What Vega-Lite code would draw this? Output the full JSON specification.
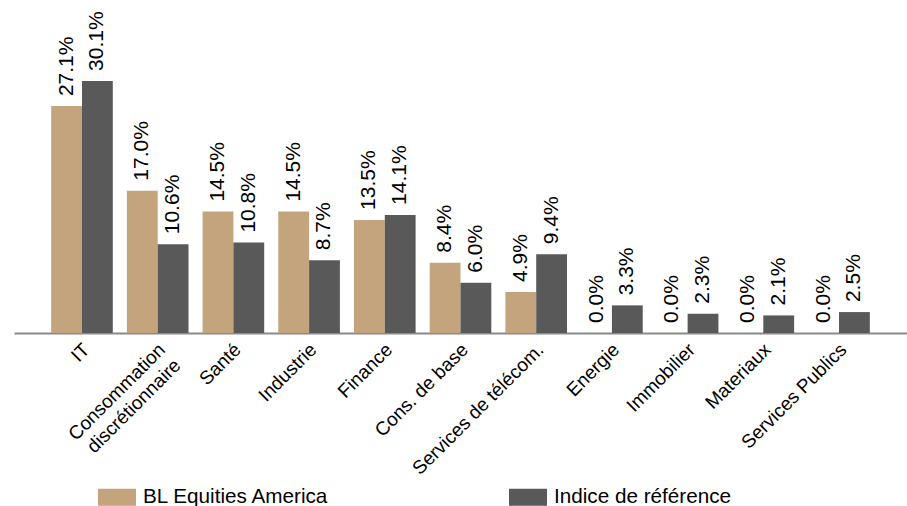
{
  "$schema": "https://vega.github.io/schema/vega-lite/v6.json",
  "autosize": "none",
  "width": 893,
  "height": 333,
  "padding": {"left": 14, "top": 0, "right": 0, "bottom": 173},
  "background": "white",
  "config": {
    "view": {"stroke": null},
    "font": "Liberation Sans",
    "text": {"font": "Liberation Sans"}
  },
  "data": {
    "values": [
      {"secteur": "IT", "serie": "BL Equities America", "valeur": 0.271},
      {"secteur": "IT", "serie": "Indice de référence", "valeur": 0.301},
      {"secteur": "Consommation discrétionnaire", "serie": "BL Equities America", "valeur": 0.170},
      {"secteur": "Consommation discrétionnaire", "serie": "Indice de référence", "valeur": 0.106},
      {"secteur": "Santé", "serie": "BL Equities America", "valeur": 0.145},
      {"secteur": "Santé", "serie": "Indice de référence", "valeur": 0.108},
      {"secteur": "Industrie", "serie": "BL Equities America", "valeur": 0.145},
      {"secteur": "Industrie", "serie": "Indice de référence", "valeur": 0.087},
      {"secteur": "Finance", "serie": "BL Equities America", "valeur": 0.135},
      {"secteur": "Finance", "serie": "Indice de référence", "valeur": 0.141},
      {"secteur": "Cons. de base", "serie": "BL Equities America", "valeur": 0.084},
      {"secteur": "Cons. de base", "serie": "Indice de référence", "valeur": 0.060},
      {"secteur": "Services de télécom.", "serie": "BL Equities America", "valeur": 0.049},
      {"secteur": "Services de télécom.", "serie": "Indice de référence", "valeur": 0.094},
      {"secteur": "Energie", "serie": "BL Equities America", "valeur": 0.0},
      {"secteur": "Energie", "serie": "Indice de référence", "valeur": 0.033},
      {"secteur": "Immobilier", "serie": "BL Equities America", "valeur": 0.0},
      {"secteur": "Immobilier", "serie": "Indice de référence", "valeur": 0.023},
      {"secteur": "Materiaux", "serie": "BL Equities America", "valeur": 0.0},
      {"secteur": "Materiaux", "serie": "Indice de référence", "valeur": 0.021},
      {"secteur": "Services Publics", "serie": "BL Equities America", "valeur": 0.0},
      {"secteur": "Services Publics", "serie": "Indice de référence", "valeur": 0.025}
    ]
  },
  "encoding": {
    "x": {
      "field": "secteur",
      "type": "nominal",
      "sort": null,
      "scale": {"paddingInner": 0.186, "paddingOuter": 0.491},
      "axis": {
        "title": null,
        "ticks": false,
        "tickSize": 0,
        "domainColor": "#8a8a8a",
        "domainWidth": 2,
        "labelAngle": -45,
        "labelAlign": "right",
        "labelBaseline": "top",
        "labelPadding": 7,
        "labelOffset": -2,
        "labelFontSize": 19,
        "labelFont": "Liberation Sans",
        "labelColor": "#000000",
        "labelLimit": 0,
        "labelLineHeight": 22,
        "labelExpr": "datum.value == 'Consommation discrétionnaire' ? ['Consommation', 'discrétionnaire'] : datum.value"
      }
    },
    "xOffset": {
      "field": "serie",
      "type": "nominal",
      "sort": ["BL Equities America", "Indice de référence"],
      "scale": {"paddingInner": 0, "paddingOuter": 0}
    },
    "y": {
      "field": "valeur",
      "type": "quantitative",
      "scale": {"domain": [0, 0.3977], "nice": false, "zero": true},
      "axis": null
    }
  },
  "layer": [
    {
      "mark": {"type": "bar"},
      "encoding": {
        "color": {
          "field": "serie",
          "type": "nominal",
          "scale": {
            "domain": ["BL Equities America", "Indice de référence"],
            "range": ["#C3A47C", "#595959"]
          },
          "legend": {
            "title": null,
            "orient": "none",
            "direction": "horizontal",
            "legendX": 84,
            "legendY": 478,
            "padding": 0,
            "symbolType": "M-1,-0.447H1V0.447H-1Z",
            "symbolSize": 1444,
            "symbolStrokeWidth": 0,
            "labelFontSize": 20.7,
            "labelFont": "Liberation Sans",
            "labelColor": "#000000",
            "labelOffset": 7,
            "labelLimit": 0,
            "columnPadding": 179
          }
        }
      }
    },
    {
      "mark": {
        "type": "text",
        "angle": -90,
        "align": "left",
        "baseline": "middle",
        "dx": 10,
        "fontSize": 21,
        "font": "Liberation Sans",
        "color": "#000000"
      },
      "encoding": {
        "text": {"field": "valeur", "type": "quantitative", "format": ".1%"}
      }
    }
  ]
}
